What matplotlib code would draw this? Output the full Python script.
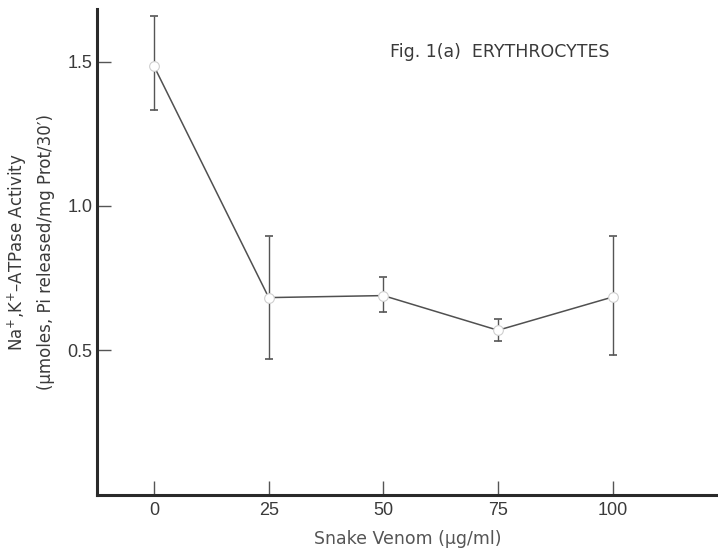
import matplotlib
matplotlib.use("Agg")
import matplotlib.pyplot as plt

venom = [0, 25, 50, 75, 100]
activity = [1.483, 0.683, 0.690, 0.570, 0.685]
err_upper = [1.658, 0.896, 0.754, 0.608, 0.896]
err_lower = [1.331, 0.470, 0.633, 0.532, 0.484]
xticks = [0, 25, 50, 75, 100]
yticks = [0.5, 1.0, 1.5]
ytick_labels = ["0.5", "1.0", "1.5"]

plt.rcParams['font.family'] = ['Liberation Sans', 'DejaVu Sans']
ink = '#3a3a3a'

fig = plt.figure(figsize=(7.18, 5.52), dpi=100)
ax = fig.add_axes([0.1355, 0.1033, 0.8645, 0.8795])

yerr = [[a - l for a, l in zip(activity, err_lower)],
        [u - a for a, u in zip(activity, err_upper)]]
ax.errorbar(venom, activity, yerr=yerr, fmt='none', ecolor='#555555',
            elinewidth=1.0, capsize=3, capthick=1.2, zorder=2)
ax.plot(venom, activity, color='#505050', lw=1.1, zorder=3)
ax.plot(venom, activity, 'o', ms=7, mfc='white', mec='#cfcfcf', mew=0.8, zorder=4)

ax.set_xlim(-12.4, 123)
ax.set_ylim(0, 1.68)
ax.set_xticks(xticks)
ax.set_yticks(yticks)
ax.set_yticklabels(ytick_labels)

for s in ['top', 'right']:
    ax.spines[s].set_visible(False)
for s in ['left', 'bottom']:
    ax.spines[s].set_linewidth(2.2)
    ax.spines[s].set_color('#2a2a2a')

ax.tick_params(axis='both', direction='in', length=10, width=1.0,
               colors='#555555', labelcolor=ink, labelsize=13)
ax.tick_params(axis='y', pad=3.5)
ax.tick_params(axis='x', pad=5)

ax.set_xlabel("Snake Venom (\u03bcg/ml)", fontsize=12.5, color='#555555', labelpad=8,
              family=['DejaVu Sans'])
ax.set_ylabel("Na$^{+}$,K$^{+}$\u2013ATPase Activity\n(\u03bcmoles, Pi released/mg Prot/30\u2032)",
              fontsize=12, color=ink, labelpad=9, linespacing=1.6,
              family=['DejaVu Sans'])

fig.text(0.543, 0.905, "Fig. 1(a)  ERYTHROCYTES", fontsize=12.5, color=ink,
         ha='left', va='center', family=['DejaVu Sans'])

fig.savefig("out.png", dpi=100)
